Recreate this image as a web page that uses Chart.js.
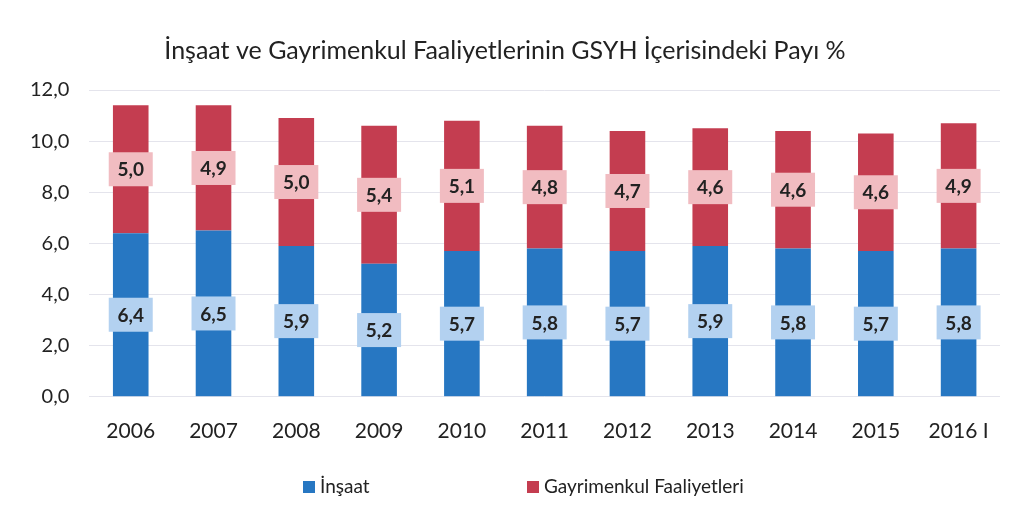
<!DOCTYPE html>
<html>
<head>
<meta charset="utf-8">
<script src="https://cdn.jsdelivr.net/npm/chart.js@4/dist/chart.umd.min.js"></script>
<style>
  html, body { margin: 0; padding: 0; background: #fff; }
  #wrap { width: 1026px; height: 520px; }
</style>
</head>
<body>
<div id="wrap"><canvas id="myChart" width="1026" height="520"></canvas></div>
<script>
const YEARS = ['2006', '2007', '2008', '2009', '2010', '2011', '2012', '2013', '2014', '2015', '2016 I'];
const INSAAT = [6.4, 6.5, 5.9, 5.2, 5.7, 5.8, 5.7, 5.9, 5.8, 5.7, 5.8];
const GAYRIMENKUL = [5.0, 4.9, 5.0, 5.4, 5.1, 4.8, 4.7, 4.6, 4.6, 4.6, 4.9];
const Y_TICKS = [0, 2, 4, 6, 8, 10, 12];

const FONT = 'Lato, "Open Sans", sans-serif';
const BLUE = '#2777c2';
const RED = '#c43d50';
const BLUE_BOX = '#b3d1f0';
const RED_BOX = '#f1bcc1';

function fmt(v) {
  return v.toFixed(1).replace('.', ',');
}

// value boxes in the middle of each bar segment
const valueBoxes = {
  id: 'valueBoxes',
  afterDatasetsDraw(chart) {
    const ctx = chart.ctx;
    ctx.save();
    ctx.font = 'bold 19px ' + FONT;
    ctx.textAlign = 'center';
    ctx.textBaseline = 'middle';
    chart.data.datasets.forEach((ds, i) => {
      const meta = chart.getDatasetMeta(i);
      meta.data.forEach((bar, j) => {
        const y = (bar.y + bar.base) / 2;
        const w = 44, h = 34;
        ctx.fillStyle = ds.boxColor;
        ctx.fillRect(bar.x - w / 2, y - h / 2, w, h);
        ctx.fillStyle = '#222';
        ctx.fillText(fmt(ds.data[j]), bar.x, y + 1);
      });
    });
    ctx.restore();
  }
};

// legend drawn by hand to keep the wide gap between the two items
const bottomLegend = {
  id: 'bottomLegend',
  afterDraw(chart) {
    const ctx = chart.ctx;
    const items = [
      { x: 303, text: 'İnşaat', color: BLUE },
      { x: 527, text: 'Gayrimenkul Faaliyetleri', color: RED },
    ];
    ctx.save();
    ctx.font = '19px ' + FONT;
    ctx.textBaseline = 'middle';
    ctx.textAlign = 'left';
    items.forEach((it) => {
      ctx.fillStyle = it.color;
      ctx.fillRect(it.x, 481, 12, 12);
      ctx.fillStyle = '#222';
      ctx.fillText(it.text, it.x + 17, 487);
    });
    ctx.restore();
  }
};

const ctx = document.getElementById('myChart').getContext('2d');

new Chart(ctx, {
  type: 'bar',
  data: {
    labels: YEARS,
    datasets: [
      {
        label: 'İnşaat',
        data: INSAAT,
        backgroundColor: BLUE,
        boxColor: BLUE_BOX,
        barPercentage: 0.43,
        categoryPercentage: 1,
      },
      {
        label: 'Gayrimenkul Faaliyetleri',
        data: GAYRIMENKUL,
        backgroundColor: RED,
        boxColor: RED_BOX,
        barPercentage: 0.43,
        categoryPercentage: 1,
      },
    ],
  },
  options: {
    responsive: false,
    animation: false,
    layout: { padding: { left: 10, right: 26, top: 0, bottom: 62 } },
    plugins: {
      legend: { display: false },
      tooltip: { enabled: false },
      title: {
        display: true,
        text: 'İnşaat ve Gayrimenkul Faaliyetlerinin GSYH İçerisindeki Payı %',
        color: '#222',
        font: { family: FONT, size: 25, weight: 'normal' },
        padding: { top: 36, bottom: 24 },
      },
    },
    scales: {
      x: {
        stacked: true,
        grid: { display: false },
        border: { display: false },
        ticks: {
          color: '#222',
          font: { family: FONT, size: 21 },
          padding: 14,
          maxRotation: 0,
        },
      },
      y: {
        stacked: true,
        min: 0,
        max: 12,
        afterBuildTicks(axis) {
          axis.ticks = Y_TICKS.map((v) => ({ value: v }));
        },
        grid: { color: '#e4e4ec', lineWidth: 1, drawTicks: false },
        border: { display: false },
        ticks: {
          color: '#222',
          font: { family: FONT, size: 20 },
          padding: 20,
          callback: (v) => fmt(v),
        },
      },
    },
  },
  plugins: [valueBoxes, bottomLegend],
});
</script>
</body>
</html>
